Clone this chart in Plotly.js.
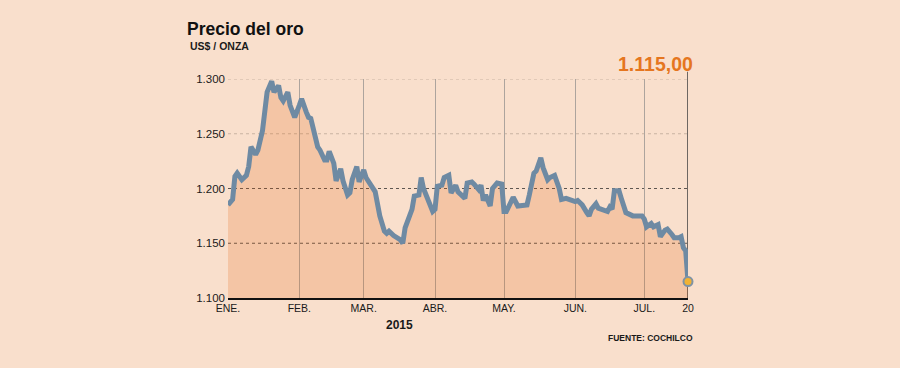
<!DOCTYPE html>
<html>
<head>
<meta charset="utf-8">
<script src="https://cdn.plot.ly/plotly-3.0.1.min.js"></script>
<style>
  html, body { margin: 0; padding: 0; background: #F9DFCC; }
  #chart { width: 900px; height: 368px; }
</style>
</head>
<body>
<div id="chart"></div>
<script>
const dates = [
  '2015-01-01','2015-01-03','2015-01-04','2015-01-05','2015-01-07','2015-01-09','2015-01-10','2015-01-11','2015-01-13','2015-01-14',
  '2015-01-16','2015-01-18','2015-01-20','2015-01-21','2015-01-23','2015-01-24','2015-01-25','2015-01-27','2015-01-28','2015-01-30',
  '2015-02-01','2015-02-02','2015-02-04','2015-02-05','2015-02-06','2015-02-08','2015-02-09','2015-02-10','2015-02-12','2015-02-13',
  '2015-02-14','2015-02-16','2015-02-17','2015-02-19','2015-02-20','2015-02-22','2015-02-23','2015-02-24','2015-02-26','2015-02-27',
  '2015-03-01','2015-03-02','2015-03-04','2015-03-06','2015-03-08','2015-03-10','2015-03-11','2015-03-12','2015-03-14','2015-03-15',
  '2015-03-17','2015-03-18','2015-03-19','2015-03-22','2015-03-23','2015-03-25','2015-03-26','2015-03-27','2015-03-29','2015-03-31',
  '2015-04-01','2015-04-02','2015-04-04','2015-04-05','2015-04-07','2015-04-08','2015-04-10','2015-04-11','2015-04-13','2015-04-14',
  '2015-04-15','2015-04-17','2015-04-18','2015-04-20','2015-04-21','2015-04-22','2015-04-23','2015-04-25','2015-04-26','2015-04-28','2015-04-30',
  '2015-05-01','2015-05-02','2015-05-04','2015-05-05','2015-05-07','2015-05-09','2015-05-11','2015-05-12','2015-05-14','2015-05-15',
  '2015-05-17','2015-05-18','2015-05-20','2015-05-21','2015-05-23','2015-05-25','2015-05-26','2015-05-28','2015-05-30',
  '2015-06-01','2015-06-02','2015-06-04','2015-06-06','2015-06-07','2015-06-08','2015-06-10','2015-06-11','2015-06-13','2015-06-15',
  '2015-06-16','2015-06-17','2015-06-18','2015-06-20','2015-06-21','2015-06-23','2015-06-26','2015-06-28','2015-06-30',
  '2015-07-01','2015-07-02','2015-07-04','2015-07-05','2015-07-07','2015-07-08','2015-07-10','2015-07-11','2015-07-13','2015-07-14',
  '2015-07-16','2015-07-17','2015-07-18','2015-07-19','2015-07-20'
];
const prices = [
  1185,1190,1211,1214,1208,1212,1220,1238,1231,1235,1253,1288,1298,1288,1294,1283,1280,1288,1276,1265,
  1276,1282,1270,1265,1264,1244,1238,1235,1226,1226,1234,1223,1207,1218,1207,1194,1196,1208,1220,1206,
  1217,1210,1204,1197,1175,1161,1159,1161,1157,1156,1153,1150,1164,1181,1193,1194,1210,1200,1190,1179,
  1181,1202,1203,1210,1212,1196,1203,1197,1193,1191,1205,1206,1204,1199,1203,1189,1194,1184,1200,1205,1204,
  1179,1179,1187,1192,1184,1185,1185,1194,1214,1216,1228,1219,1208,1210,1212,1200,1190,1191,1190,
  1188,1189,1185,1178,1175,1181,1186,1182,1180,1179,1183,1181,1198,1198,1191,1178,1175,1175,1175,
  1172,1165,1168,1165,1167,1156,1162,1163,1158,1155,1155,1156,1146,1143,1115
];
const xTickVals = ['2015-01-01','2015-02-01','2015-03-01','2015-04-01','2015-05-01','2015-06-01','2015-07-01','2015-07-20'];
const xTickText = ['ENE.','FEB.','MAR.','ABR.','MAY.','JUN.','JUL.','20'];
const yTickVals = [1100, 1150, 1200, 1250, 1300];
const yTickText = ['1.100','1.150','1.200','1.250','1.300'];
const lastLabel = '1.115,00';
const titleText = 'Precio del oro';
const unitText = 'US$ / ONZA';
const yearText = '2015';
const sourceText = 'FUENTE: COCHILCO';

const BG = '#F9DFCC';
const FONT = 'Liberation Sans, Arial, sans-serif';
const lastDate = dates[dates.length - 1];
const lastPrice = prices[prices.length - 1];

const traces = [
  {
    x: dates, y: prices, type: 'scatter', mode: 'lines',
    fill: 'tozeroy', fillcolor: 'rgba(224,93,9,0.2)',
    line: { color: '#6E8AA3', width: 5, shape: 'linear' },
    hoverinfo: 'skip', showlegend: false
  },
  {
    x: [lastDate], y: [lastPrice], type: 'scatter', mode: 'markers',
    marker: { color: '#F2B233', size: 9, line: { color: '#7F93A5', width: 2 } },
    hoverinfo: 'skip', showlegend: false, cliponaxis: false
  }
];

const hLine = (v, color, dash) => ({
  type: 'line', xref: 'paper', x0: 0, x1: 1, yref: 'y', y0: v, y1: v,
  line: { color: color, width: 1, dash: dash }, layer: 'below'
});

const layout = {
  width: 900, height: 368,
  paper_bgcolor: BG, plot_bgcolor: BG,
  margin: { l: 228, r: 212, t: 79, b: 70 },
  separators: ',.',
  font: { family: FONT, color: '#1a1a1a' },
  title: {
    text: '<b>' + titleText + '</b>',
    font: { family: FONT, size: 17.5, color: '#111' },
    xref: 'container', yref: 'container',
    x: 187 / 900, xanchor: 'left', y: 1 - 29 / 368, yanchor: 'middle'
  },
  xaxis: {
    type: 'date', range: ['2015-01-01', '2015-07-20'],
    tickmode: 'array', tickvals: xTickVals, ticktext: xTickText,
    showgrid: true, gridcolor: '#ADA49D', gridwidth: 1,
    showline: true, linecolor: '#111', linewidth: 1.5,
    ticks: '', tickfont: { family: FONT, size: 10.5, color: '#1a1a1a' },
    zeroline: false, fixedrange: true
  },
  yaxis: {
    range: [1100, 1300],
    tickmode: 'array', tickvals: yTickVals, ticktext: yTickText,
    showgrid: false, showline: false, zeroline: false, ticks: '',
    tickfont: { family: FONT, size: 11.5, color: '#1a1a1a' },
    ticklabelstandoff: 2, fixedrange: true
  },
  shapes: [
    hLine(1300, '#C9B3A2', 'dot'),
    hLine(1250, '#C9B3A2', 'dot'),
    hLine(1200, '#5E5650', '3px,3px'),
    hLine(1150, '#5E5650', '3px,3px'),
    {
      type: 'line', xref: 'x', x0: lastDate, x1: lastDate, yref: 'paper', y0: 0, y1: 1.033,
      line: { color: '#3F3F3F', width: 1.5 }, layer: 'below'
    }
  ],
  annotations: [
    {
      text: '<b>' + unitText + '</b>', xref: 'paper', yref: 'paper',
      x: -0.088, xanchor: 'left', y: 1.152, yanchor: 'middle', showarrow: false,
      font: { family: FONT, size: 10.5, color: '#1a1a1a' }
    },
    {
      text: '<b>' + lastLabel + '</b>', xref: 'paper', yref: 'paper',
      x: 1.015, xanchor: 'right', y: 1.067, yanchor: 'middle', showarrow: false,
      font: { family: FONT, size: 19.5, color: '#E5761F' }
    },
    {
      text: '<b>' + yearText + '</b>', xref: 'paper', yref: 'paper',
      x: 0.372, xanchor: 'center', y: -0.122, yanchor: 'middle', showarrow: false,
      font: { family: FONT, size: 12, color: '#1a1a1a' }
    },
    {
      text: '<b>' + sourceText + '</b>', xref: 'paper', yref: 'paper',
      x: 1.016, xanchor: 'right', y: -0.181, yanchor: 'middle', showarrow: false,
      font: { family: FONT, size: 8.5, color: '#1a1a1a' }
    }
  ]
};

Plotly.newPlot('chart', traces, layout, { staticPlot: true, displayModeBar: false });
</script>
</body>
</html>
